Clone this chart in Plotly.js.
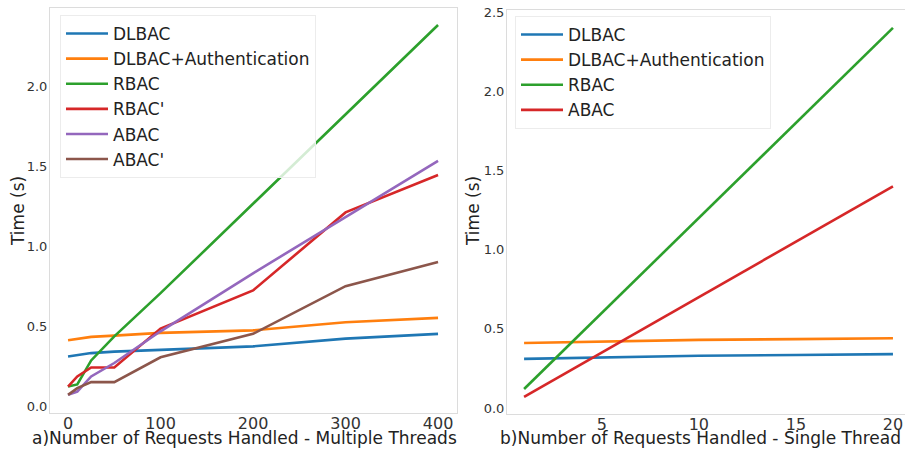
<!DOCTYPE html>
<html>
<head>
<meta charset="utf-8">
<script src="https://cdn.plot.ly/plotly-3.0.1.min.js"></script>
<style>html,body{margin:0;padding:0;background:#fff;}#chart{width:905px;height:452px;}</style>
</head>
<body>
<div id="chart"></div>
<script>
// Panel a) multiple threads
const xMulti = [0, 10, 25, 50, 100, 200, 300, 400];
const multiDLBAC     = [0.315, 0.325, 0.336, 0.345, 0.357, 0.378, 0.426, 0.456];
const multiDLBACAuth = [0.416, 0.425, 0.437, 0.445, 0.462, 0.478, 0.528, 0.556];
const multiRBAC      = [0.127, 0.14, 0.29, 0.44, 0.71, 1.27, 1.83, 2.384];
const multiRBACp     = [0.127, 0.19, 0.246, 0.246, 0.489, 0.727, 1.214, 1.448];
const multiABAC      = [0.075, 0.096, 0.19, 0.274, 0.472, 0.834, 1.185, 1.536];
const multiABACp     = [0.075, 0.117, 0.155, 0.155, 0.31, 0.456, 0.754, 0.905];

// Panel b) single thread
const xSingle = [1, 5, 10, 15, 20];
const singleDLBAC     = [0.31, 0.32, 0.33, 0.335, 0.34];
const singleDLBACAuth = [0.41, 0.42, 0.43, 0.435, 0.44];
const singleRBAC      = [0.12, 0.60, 1.20, 1.80, 2.40];
const singleABAC      = [0.07, 0.35, 0.70, 1.05, 1.40];

const namesMulti = ["DLBAC", "DLBAC+Authentication", "RBAC", "RBAC'", "ABAC", "ABAC'"];
const namesSingle = ["DLBAC", "DLBAC+Authentication", "RBAC", "ABAC"];
const xTitleA = "a)Number of Requests Handled - Multiple Threads";
const xTitleB = "b)Number of Requests Handled - Single Thread";
const yTitle = "Time (s)";

const colors = ["#1f77b4", "#ff7f0e", "#2ca02c", "#d62728", "#9467bd", "#8c564b"];

const multiSeries = [multiDLBAC, multiDLBACAuth, multiRBAC, multiRBACp, multiABAC, multiABACp];
const singleSeries = [singleDLBAC, singleDLBACAuth, singleRBAC, singleABAC];

const traces = [];
multiSeries.forEach((ys, i) => {
  traces.push({x: xMulti, y: ys, name: namesMulti[i], type: 'scatter', mode: 'lines',
    line: {color: colors[i], width: 2.6}, xaxis: 'x', yaxis: 'y', legend: 'legend'});
});
singleSeries.forEach((ys, i) => {
  traces.push({x: xSingle, y: ys, name: namesSingle[i], type: 'scatter', mode: 'lines',
    line: {color: colors[i], width: 2.6}, xaxis: 'x2', yaxis: 'y2', legend: 'legend2'});
});

const axisCommon = {
  showgrid: false, zeroline: false, showline: true, mirror: true,
  linecolor: '#dcdcdc', linewidth: 1, ticks: '', automargin: false
};

const legendCommon = {
  bgcolor: 'rgba(255,255,255,0.8)', bordercolor: '#ececec', borderwidth: 1,
  font: {family: 'DejaVu Sans', size: 17, color: '#222'},
  xanchor: 'left', yanchor: 'top', tracegroupgap: 0, itemwidth: 42
};

const layout = {
  width: 905, height: 452,
  margin: {l: 0, r: 0, t: 0, b: 0},
  paper_bgcolor: '#fff', plot_bgcolor: '#fff',
  font: {family: 'DejaVu Sans', color: '#333'},
  showlegend: true,
  xaxis: Object.assign({}, axisCommon, {
    domain: [50/905, 457/905], range: [-19.5, 420.5], dtick: 100, tick0: 0,
    tickfont: {size: 16, color: '#333'}, anchor: 'y', ticklabelstandoff: -4
  }),
  yaxis: Object.assign({}, axisCommon, {
    domain: [(452-413)/452, (452-8)/452], range: [-0.038, 2.49], dtick: 0.5, tick0: 0,
    tickformat: '.1f', tickfont: {size: 13, color: '#333'}, anchor: 'x', ticklabelstandoff: -1
  }),
  xaxis2: Object.assign({}, axisCommon, {
    domain: [507/905, 1], range: [0.12, 20.62], dtick: 5, tick0: 0,
    tickfont: {size: 16, color: '#333'}, anchor: 'y2', ticklabelstandoff: -4
  }),
  yaxis2: Object.assign({}, axisCommon, {
    domain: [(452-414)/452, (452-10)/452], range: [-0.038, 2.513], dtick: 0.5, tick0: 0,
    tickformat: '.1f', tickfont: {size: 13, color: '#333'}, anchor: 'x2', ticklabelstandoff: -1
  }),
  legend: Object.assign({}, legendCommon, {x: 60/905, y: (452-15)/452}),
  legend2: Object.assign({}, legendCommon, {x: 515/905, y: (452-16)/452}),
  annotations: [
    {text: xTitleA, xref: 'paper', yref: 'paper', x: 245/905, y: (452-438)/452,
     xanchor: 'center', yanchor: 'middle', showarrow: false,
     font: {family: 'DejaVu Sans', size: 17, color: '#222'}},
    {text: xTitleB, xref: 'paper', yref: 'paper', x: 700/905, y: (452-438)/452,
     xanchor: 'center', yanchor: 'middle', showarrow: false,
     font: {family: 'DejaVu Sans', size: 17, color: '#222'}},
    {text: yTitle, xref: 'paper', yref: 'paper', x: 18/905, y: (452-211)/452,
     xanchor: 'center', yanchor: 'middle', textangle: -90, showarrow: false,
     font: {family: 'DejaVu Sans', size: 17, color: '#222'}},
    {text: yTitle, xref: 'paper', yref: 'paper', x: 473/905, y: (452-211)/452,
     xanchor: 'center', yanchor: 'middle', textangle: -90, showarrow: false,
     font: {family: 'DejaVu Sans', size: 17, color: '#222'}}
  ]
};

Plotly.newPlot('chart', traces, layout, {staticPlot: true, displayModeBar: false});
</script>
</body>
</html>
